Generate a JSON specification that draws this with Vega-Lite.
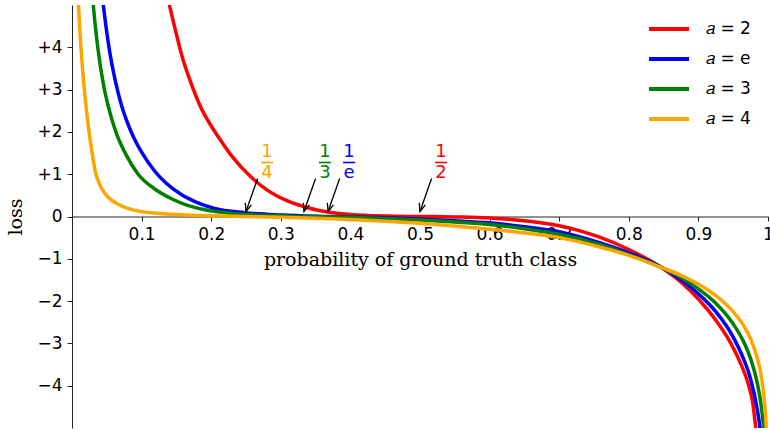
{
  "$schema": "https://vega.github.io/schema/vega-lite/v6.json",
  "width": 696,
  "height": 423,
  "autosize": {"type": "none"},
  "padding": {"left": 72, "top": 5, "right": 2, "bottom": 3},
  "config": {"view": {"stroke": null}, "font": "DejaVu Sans"},
  "datasets": {
    "curves": [
      {"a": "𝑎 = 2", "p": 0.133, "loss": 5.56}, {"a": "𝑎 = 2", "p": 0.14, "loss": 5.0}, {"a": "𝑎 = 2", "p": 0.15, "loss": 4.31}, {"a": "𝑎 = 2", "p": 0.157, "loss": 3.85}, {"a": "𝑎 = 2", "p": 0.17, "loss": 3.2}, {"a": "𝑎 = 2", "p": 0.184, "loss": 2.62}, {"a": "𝑎 = 2", "p": 0.2, "loss": 2.14}, {"a": "𝑎 = 2", "p": 0.212, "loss": 1.84}, {"a": "𝑎 = 2", "p": 0.23, "loss": 1.42}, {"a": "𝑎 = 2", "p": 0.258, "loss": 0.92}, {"a": "𝑎 = 2", "p": 0.28, "loss": 0.63}, {"a": "𝑎 = 2", "p": 0.308, "loss": 0.38}, {"a": "𝑎 = 2", "p": 0.34, "loss": 0.2}, {"a": "𝑎 = 2", "p": 0.37, "loss": 0.1}, {"a": "𝑎 = 2", "p": 0.4, "loss": 0.045}, {"a": "𝑎 = 2", "p": 0.45, "loss": 0.01}, {"a": "𝑎 = 2", "p": 0.5, "loss": 0.0}, {"a": "𝑎 = 2", "p": 0.55, "loss": -0.01}, {"a": "𝑎 = 2", "p": 0.6, "loss": -0.033}, {"a": "𝑎 = 2", "p": 0.65, "loss": -0.1}, {"a": "𝑎 = 2", "p": 0.7, "loss": -0.22}, {"a": "𝑎 = 2", "p": 0.73, "loss": -0.34}, {"a": "𝑎 = 2", "p": 0.758, "loss": -0.49}, {"a": "𝑎 = 2", "p": 0.8, "loss": -0.78}, {"a": "𝑎 = 2", "p": 0.849, "loss": -1.23}, {"a": "𝑎 = 2", "p": 0.875, "loss": -1.55}, {"a": "𝑎 = 2", "p": 0.9, "loss": -1.95}, {"a": "𝑎 = 2", "p": 0.925, "loss": -2.45}, {"a": "𝑎 = 2", "p": 0.945, "loss": -2.95}, {"a": "𝑎 = 2", "p": 0.96, "loss": -3.45}, {"a": "𝑎 = 2", "p": 0.972, "loss": -3.98}, {"a": "𝑎 = 2", "p": 0.978, "loss": -4.4}, {"a": "𝑎 = 2", "p": 0.983, "loss": -5.07}, {"a": "𝑎 = 2", "p": 0.988, "loss": -5.68},
      {"a": "𝑎 = e", "p": 0.041, "loss": 5.6}, {"a": "𝑎 = e", "p": 0.045, "loss": 5.0}, {"a": "𝑎 = e", "p": 0.0535, "loss": 3.96}, {"a": "𝑎 = e", "p": 0.0625, "loss": 3.19}, {"a": "𝑎 = e", "p": 0.0713, "loss": 2.62}, {"a": "𝑎 = e", "p": 0.078, "loss": 2.29}, {"a": "𝑎 = e", "p": 0.088, "loss": 1.89}, {"a": "𝑎 = e", "p": 0.1, "loss": 1.52}, {"a": "𝑎 = e", "p": 0.119, "loss": 1.07}, {"a": "𝑎 = e", "p": 0.135, "loss": 0.79}, {"a": "𝑎 = e", "p": 0.157, "loss": 0.52}, {"a": "𝑎 = e", "p": 0.18, "loss": 0.33}, {"a": "𝑎 = e", "p": 0.205, "loss": 0.19}, {"a": "𝑎 = e", "p": 0.248, "loss": 0.09}, {"a": "𝑎 = e", "p": 0.3, "loss": 0.035}, {"a": "𝑎 = e", "p": 0.368, "loss": 0.0}, {"a": "𝑎 = e", "p": 0.45, "loss": -0.03}, {"a": "𝑎 = e", "p": 0.5, "loss": -0.06}, {"a": "𝑎 = e", "p": 0.55, "loss": -0.1}, {"a": "𝑎 = e", "p": 0.6, "loss": -0.15}, {"a": "𝑎 = e", "p": 0.65, "loss": -0.24}, {"a": "𝑎 = e", "p": 0.7, "loss": -0.36}, {"a": "𝑎 = e", "p": 0.758, "loss": -0.62}, {"a": "𝑎 = e", "p": 0.8, "loss": -0.86}, {"a": "𝑎 = e", "p": 0.849, "loss": -1.22}, {"a": "𝑎 = e", "p": 0.875, "loss": -1.5}, {"a": "𝑎 = e", "p": 0.9, "loss": -1.83}, {"a": "𝑎 = e", "p": 0.925, "loss": -2.25}, {"a": "𝑎 = e", "p": 0.95, "loss": -2.85}, {"a": "𝑎 = e", "p": 0.965, "loss": -3.37}, {"a": "𝑎 = e", "p": 0.975, "loss": -3.84}, {"a": "𝑎 = e", "p": 0.985, "loss": -4.6}, {"a": "𝑎 = e", "p": 0.989, "loss": -5.06}, {"a": "𝑎 = e", "p": 0.993, "loss": -5.73},
      {"a": "𝑎 = 3", "p": 0.028, "loss": 5.55}, {"a": "𝑎 = 3", "p": 0.0306, "loss": 5.0}, {"a": "𝑎 = 3", "p": 0.037, "loss": 4.0}, {"a": "𝑎 = 3", "p": 0.046, "loss": 3.05}, {"a": "𝑎 = 3", "p": 0.053, "loss": 2.55}, {"a": "𝑎 = 3", "p": 0.063, "loss": 2.0}, {"a": "𝑎 = 3", "p": 0.078, "loss": 1.45}, {"a": "𝑎 = 3", "p": 0.095, "loss": 1.0}, {"a": "𝑎 = 3", "p": 0.119, "loss": 0.65}, {"a": "𝑎 = 3", "p": 0.143, "loss": 0.42}, {"a": "𝑎 = 3", "p": 0.165, "loss": 0.27}, {"a": "𝑎 = 3", "p": 0.191, "loss": 0.16}, {"a": "𝑎 = 3", "p": 0.239, "loss": 0.06}, {"a": "𝑎 = 3", "p": 0.3, "loss": 0.012}, {"a": "𝑎 = 3", "p": 0.333, "loss": 0.0}, {"a": "𝑎 = 3", "p": 0.4, "loss": -0.02}, {"a": "𝑎 = 3", "p": 0.45, "loss": -0.045}, {"a": "𝑎 = 3", "p": 0.5, "loss": -0.08}, {"a": "𝑎 = 3", "p": 0.55, "loss": -0.13}, {"a": "𝑎 = 3", "p": 0.6, "loss": -0.19}, {"a": "𝑎 = 3", "p": 0.65, "loss": -0.29}, {"a": "𝑎 = 3", "p": 0.7, "loss": -0.42}, {"a": "𝑎 = 3", "p": 0.758, "loss": -0.66}, {"a": "𝑎 = 3", "p": 0.8, "loss": -0.9}, {"a": "𝑎 = 3", "p": 0.849, "loss": -1.22}, {"a": "𝑎 = 3", "p": 0.875, "loss": -1.44}, {"a": "𝑎 = 3", "p": 0.9, "loss": -1.71}, {"a": "𝑎 = 3", "p": 0.925, "loss": -2.05}, {"a": "𝑎 = 3", "p": 0.95, "loss": -2.54}, {"a": "𝑎 = 3", "p": 0.965, "loss": -2.96}, {"a": "𝑎 = 3", "p": 0.975, "loss": -3.36}, {"a": "𝑎 = 3", "p": 0.985, "loss": -3.97}, {"a": "𝑎 = 3", "p": 0.99, "loss": -4.45}, {"a": "𝑎 = 3", "p": 0.994, "loss": -5.06}, {"a": "𝑎 = 3", "p": 0.997, "loss": -5.88},
      {"a": "𝑎 = 4", "p": 0.0078, "loss": 5.55}, {"a": "𝑎 = 4", "p": 0.0093, "loss": 5.0}, {"a": "𝑎 = 4", "p": 0.011, "loss": 4.48}, {"a": "𝑎 = 4", "p": 0.0128, "loss": 4.0}, {"a": "𝑎 = 4", "p": 0.015, "loss": 3.52}, {"a": "𝑎 = 4", "p": 0.0175, "loss": 3.04}, {"a": "𝑎 = 4", "p": 0.021, "loss": 2.48}, {"a": "𝑎 = 4", "p": 0.0245, "loss": 2.0}, {"a": "𝑎 = 4", "p": 0.028, "loss": 1.6}, {"a": "𝑎 = 4", "p": 0.031, "loss": 1.28}, {"a": "𝑎 = 4", "p": 0.034, "loss": 1.03}, {"a": "𝑎 = 4", "p": 0.04, "loss": 0.75}, {"a": "𝑎 = 4", "p": 0.047, "loss": 0.55}, {"a": "𝑎 = 4", "p": 0.055, "loss": 0.41}, {"a": "𝑎 = 4", "p": 0.065, "loss": 0.3}, {"a": "𝑎 = 4", "p": 0.08, "loss": 0.19}, {"a": "𝑎 = 4", "p": 0.1, "loss": 0.115}, {"a": "𝑎 = 4", "p": 0.126, "loss": 0.07}, {"a": "𝑎 = 4", "p": 0.15, "loss": 0.045}, {"a": "𝑎 = 4", "p": 0.2, "loss": 0.015}, {"a": "𝑎 = 4", "p": 0.25, "loss": 0.0}, {"a": "𝑎 = 4", "p": 0.3, "loss": -0.015}, {"a": "𝑎 = 4", "p": 0.35, "loss": -0.04}, {"a": "𝑎 = 4", "p": 0.4, "loss": -0.07}, {"a": "𝑎 = 4", "p": 0.45, "loss": -0.11}, {"a": "𝑎 = 4", "p": 0.5, "loss": -0.16}, {"a": "𝑎 = 4", "p": 0.55, "loss": -0.225}, {"a": "𝑎 = 4", "p": 0.6, "loss": -0.3}, {"a": "𝑎 = 4", "p": 0.65, "loss": -0.39}, {"a": "𝑎 = 4", "p": 0.7, "loss": -0.5}, {"a": "𝑎 = 4", "p": 0.758, "loss": -0.72}, {"a": "𝑎 = 4", "p": 0.8, "loss": -0.92}, {"a": "𝑎 = 4", "p": 0.849, "loss": -1.22}, {"a": "𝑎 = 4", "p": 0.875, "loss": -1.39}, {"a": "𝑎 = 4", "p": 0.9, "loss": -1.6}, {"a": "𝑎 = 4", "p": 0.925, "loss": -1.87}, {"a": "𝑎 = 4", "p": 0.95, "loss": -2.25}, {"a": "𝑎 = 4", "p": 0.965, "loss": -2.58}, {"a": "𝑎 = 4", "p": 0.975, "loss": -2.89}, {"a": "𝑎 = 4", "p": 0.985, "loss": -3.37}, {"a": "𝑎 = 4", "p": 0.99, "loss": -3.74}, {"a": "𝑎 = 4", "p": 0.995, "loss": -4.39}, {"a": "𝑎 = 4", "p": 0.9975, "loss": -5.03}, {"a": "𝑎 = 4", "p": 0.999, "loss": -5.88}
    ],
    "marks": [
      {"a": "𝑎 = 2", "p": 0.5, "num": "1", "den": "2"},
      {"a": "𝑎 = e", "p": 0.3679, "num": "1", "den": "e"},
      {"a": "𝑎 = 3", "p": 0.3333, "num": "1", "den": "3"},
      {"a": "𝑎 = 4", "p": 0.25, "num": "1", "den": "4"}
    ]
  },
  "layer": [
    {
      "data": {"name": "curves"},
      "mark": {"type": "line", "strokeWidth": 3.5, "interpolate": "monotone", "clip": true},
      "encoding": {
        "x": {"field": "p", "type": "quantitative", "scale": {"domain": [0, 1], "nice": false, "zero": false},
          "axis": {"offset": -211.5, "values": [0.1, 0.2, 0.3, 0.4, 0.5, 0.6, 0.7, 0.8, 0.9, 1], "format": ".1~f", "labelFlush": false, "labelOverlap": false, "grid": false,
            "tickSize": 4.5, "labelPadding": 5.5, "domainColor": "#222", "tickColor": "#222", "labelColor": "#000", "labelFontSize": 17, "labelFont": "DejaVu Sans",
            "title": "probability of ground truth class", "titleFont": "DejaVu Serif", "titleFontSize": 19, "titleFontWeight": "normal", "titleColor": "#000", "titlePadding": 8}},
        "y": {"field": "loss", "type": "quantitative", "scale": {"domain": [-5, 5], "nice": false, "zero": false},
          "axis": {"values": [-4, -3, -2, -1, 0, 1, 2, 3, 4], "labelExpr": "datum.value > 0 ? '+' + datum.value : (datum.value < 0 ? '\u2212' + (-datum.value) : '0')", "grid": false,
            "tickSize": 5, "labelPadding": 5, "domainColor": "#222", "tickColor": "#222", "labelColor": "#000", "labelFontSize": 17, "labelFont": "DejaVu Sans",
            "title": "loss", "titleFont": "DejaVu Serif", "titleFontSize": 19, "titleFontWeight": "normal", "titleColor": "#000", "titlePadding": 11}},
        "color": {"field": "a", "type": "nominal",
          "scale": {"domain": ["𝑎 = 2", "𝑎 = e", "𝑎 = 3", "𝑎 = 4"], "range": ["#ff0000", "#0000ff", "#008000", "#ffa500"]},
          "legend": {"title": null, "orient": "none", "legendX": 575, "legendY": 2, "padding": 0, "symbolType": "stroke", "symbolStrokeWidth": 4, "symbolSize": 1600, "labelFontSize": 17, "labelFont": "DejaVu Sans", "labelColor": "#000", "labelOffset": 15, "rowPadding": -4}}
      }
    },
    {
      "data": {"name": "marks"},
      "mark": {"type": "rule", "stroke": "#000", "strokeWidth": 1.3, "xOffset": 11.6, "yOffset": -38, "x2Offset": 0, "y2Offset": -5},
      "encoding": {
        "x": {"field": "p", "type": "quantitative"},
        "x2": {"field": "p"},
        "y": {"datum": 0, "type": "quantitative"},
        "y2": {"datum": 0}
      }
    },
    {
      "data": {"name": "marks"},
      "mark": {"type": "point", "shape": "M -0.4 -1 L 0 0 L 0.4 -1", "filled": false, "stroke": "#000", "strokeWidth": 1.3, "size": 256, "angle": 17, "yOffset": -5, "opacity": 1},
      "encoding": {
        "x": {"field": "p", "type": "quantitative"},
        "y": {"datum": 0, "type": "quantitative"}
      }
    },
    {
      "data": {"name": "marks"},
      "mark": {"type": "text", "fontSize": 18, "font": "DejaVu Sans", "align": "center", "baseline": "middle", "dx": 21, "dy": -65},
      "encoding": {
        "x": {"field": "p", "type": "quantitative"},
        "y": {"datum": 0, "type": "quantitative"},
        "text": {"field": "num"},
        "color": {"field": "a", "type": "nominal", "legend": null}
      }
    },
    {
      "data": {"name": "marks"},
      "mark": {"type": "text", "fontSize": 18, "font": "DejaVu Sans", "align": "center", "baseline": "middle", "dx": 21, "dy": -44},
      "encoding": {
        "x": {"field": "p", "type": "quantitative"},
        "y": {"datum": 0, "type": "quantitative"},
        "text": {"field": "den"},
        "color": {"field": "a", "type": "nominal", "legend": null}
      }
    },
    {
      "data": {"name": "marks"},
      "mark": {"type": "rule", "strokeWidth": 1.6, "xOffset": 15, "x2Offset": 27, "yOffset": -54},
      "encoding": {
        "x": {"field": "p", "type": "quantitative"},
        "x2": {"field": "p"},
        "y": {"datum": 0, "type": "quantitative"},
        "color": {"field": "a", "type": "nominal", "legend": null}
      }
    }
  ]
}
